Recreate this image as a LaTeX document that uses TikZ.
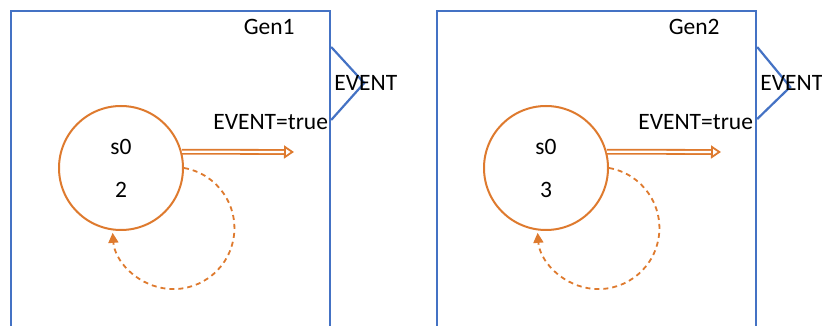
\documentclass[tikz,border=0pt]{standalone}
\usepackage{fontspec}
\setmainfont{Carlito}
\usepackage{tikz}
\usetikzlibrary{arrows.meta,positioning,calc}

\definecolor{portblue}{RGB}{68,114,196}
\definecolor{stateorange}{RGB}{222,122,46}

\begin{document}
\begin{tikzpicture}[x=1pt, y=1pt,
    every node/.style={font=\fontsize{23.5}{28}\selectfont},
    genbox/.style={draw=portblue, line width=2.2pt, rectangle, minimum width=319pt, minimum height=340pt, anchor=north west, inner sep=0pt},
    state/.style={draw=stateorange, line width=2pt, circle, minimum size=124pt, inner sep=0pt, align=center},
    port/.style={draw=portblue, line width=2.2pt, line join=miter},
    evarrow/.style={draw=stateorange, double=white, double distance=2.2pt, line width=1.8pt, -{Triangle[open, length=10pt, width=13pt]}},
    loopback/.style={draw=stateorange, line width=1.8pt, dash pattern=on 5pt off 4pt, -{Triangle[length=10pt, width=10pt]}}]
  \useasboundingbox (0,0) rectangle (822,326);

  \node[genbox] (gen1) at (10,316) {};
  \node[state] (s1) at (121,158) {s0\\[15pt]2};
  \node[anchor=center] (name1) at ($(gen1.north east)+(-62,-17)$) {Gen1};
  \coordinate (p1a) at ($(gen1.north east)+(0,-37)$);
  \coordinate (p1b) at ($(gen1.north east)+(33,-73)$);
  \coordinate (p1c) at ($(gen1.north east)+(0,-110)$);
  \draw[port] (p1a) -- (p1b) -- (p1c);
  \node[anchor=west, inner sep=0pt] (ev1) at ($(gen1.north east)+(3,-73)$) {EVENT};
  \coordinate (out1) at (294,174);
  \draw[evarrow] (s1.15) -- (out1);
  \node[anchor=east, inner sep=0pt] (cond1) at ($(gen1.north east)+(-3,-112)$) {EVENT=true};
  \draw[loopback] (s1.east) arc[start angle=80, end angle=-175.5, radius=61pt];

  \node[genbox] (gen2) at (436,316) {};
  \node[state] (s2) at (546,158) {s0\\[15pt]3};
  \node[anchor=center] (name2) at ($(gen2.north east)+(-63,-17)$) {Gen2};
  \coordinate (p2a) at ($(gen2.north east)+(0,-37)$);
  \coordinate (p2b) at ($(gen2.north east)+(33,-77)$);
  \coordinate (p2c) at ($(gen2.north east)+(0,-109)$);
  \draw[port] (p2a) -- (p2b) -- (p2c);
  \node[anchor=west, inner sep=0pt] (ev2) at ($(gen2.north east)+(3,-73)$) {EVENT};
  \coordinate (out2) at (721,174);
  \draw[evarrow] (s2.15) -- (out2);
  \node[anchor=east, inner sep=0pt] (cond2) at ($(gen2.north east)+(-4,-112)$) {EVENT=true};
  \draw[loopback] (s2.east) arc[start angle=80, end angle=-175.5, radius=61pt];
\end{tikzpicture}
\end{document}
